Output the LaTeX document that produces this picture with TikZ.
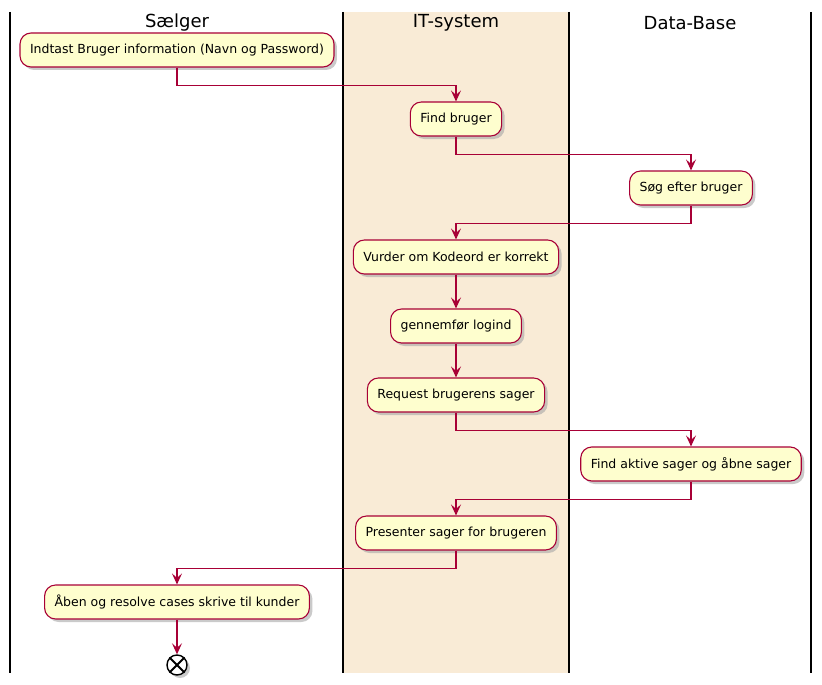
\documentclass[tikz,border=0pt]{standalone}
\usepackage{fontspec}
\setmainfont{DejaVu Sans}
\usetikzlibrary{arrows.meta,shadows,calc}
\definecolor{umlred}{HTML}{A80036}
\definecolor{umlfill}{HTML}{FEFECE}
\definecolor{lanebg}{HTML}{F9EBD6}
\tikzset{
  act/.style={draw=umlred, fill=umlfill, line width=1.1pt, rounded corners=11pt,
    minimum height=34pt, inner xsep=10pt, font=\fontsize{12.5}{14}\selectfont,
    drop shadow={shadow xshift=3pt, shadow yshift=-3pt, fill=black!35, opacity=0.6}},
  flow/.style={draw=umlred, line width=1.1pt, -{Stealth[length=11pt,width=10pt,inset=4.5pt]}},
  lane/.style={draw=black, line width=1.6pt},
  hdr/.style={font=\fontsize{18}{20}\selectfont}
}
\begin{document}
\begin{tikzpicture}[x=1pt,y=-1pt]
\useasboundingbox (0,0) rectangle (822,685);
\fill[lanebg] (343,12) rectangle (569,673);
\draw[lane] (10,12) -- (10,673);
\draw[lane] (343,12) -- (343,673);
\draw[lane] (569,12) -- (569,673);
\draw[lane] (811,12) -- (811,673);
\node[hdr] (h1) at (177,23) {Sælger};
\node[hdr] (h2) at (456,23) {IT-system};
\node[hdr] (h3) at (690,23) {Data-Base};

\node[act] (n1) at (177,50) {Indtast Bruger information (Navn og Password)};
\node[act] (n2) at (456,119) {Find bruger};
\node[act] (n3) at (691,188) {Søg efter bruger};
\node[act] (n4) at (456,257) {Vurder om Kodeord er korrekt};
\node[act] (n5) at (456,326) {gennemfør logind};
\node[act] (n6) at (456,395) {Request brugerens sager};
\node[act] (n7) at (691,464) {Find aktive sager og åbne sager};
\node[act] (n8) at (456,533) {Presenter sager for brugeren};
\node[act] (n9) at (177,602) {Åben og resolve cases skrive til kunder};
\node[circle, draw=black, fill=white, line width=1.4pt, minimum size=20pt, inner sep=0pt,
  drop shadow={shadow xshift=3pt, shadow yshift=-3pt, fill=black!35, opacity=0.6}] (end) at (177,665) {};
\draw[line width=1.8pt] (end.north east) -- (end.south west);
\draw[line width=1.8pt] (end.north west) -- (end.south east);

\draw[flow] (n1.south) -- ++(0,18) -| (n2.north);
\draw[flow] (n2.south) -- ++(0,18) -| (n3.north);
\draw[flow] (n3.south) -- ++(0,18) -| (n4.north);
\draw[flow] (n4) -- (n5);
\draw[flow] (n5) -- (n6);
\draw[flow] (n6.south) -- ++(0,18) -| (n7.north);
\draw[flow] (n7.south) -- ++(0,18) -| (n8.north);
\draw[flow] (n8.south) -- ++(0,18) -| (n9.north);
\draw[flow] (n9) -- (end);
\end{tikzpicture}
\end{document}
